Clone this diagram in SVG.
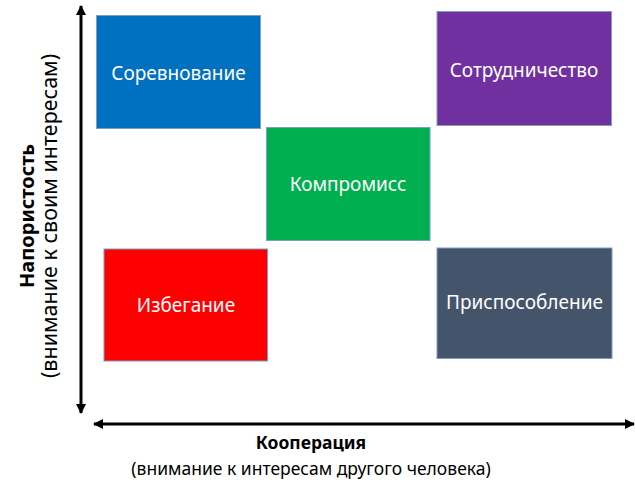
<svg xmlns="http://www.w3.org/2000/svg" width="635" height="485" viewBox="0 0 635 485">
<style>
.box{stroke:#7F9DC6;stroke-width:1}
.lbl{font-family:"Noto Sans","Open Sans",sans-serif;font-size:19px;fill:#ffffff;text-anchor:middle;dominant-baseline:central}
.ax{font-family:"Noto Sans","Open Sans",sans-serif;fill:#000000;text-anchor:middle;dominant-baseline:central}
.b{font-weight:bold}
.arr{stroke:#000;stroke-width:3;fill:none}
</style>
<defs>
<marker id="ah" viewBox="0 0 10 10" refX="9" refY="5" markerWidth="10" markerHeight="10" markerUnits="userSpaceOnUse" orient="auto-start-reverse">
<path d="M0,0 L10,5 L0,10 Z" fill="#000"/>
</marker>
</defs>
<rect width="635" height="485" fill="#fff"/>
<g id="connectors">
<line class="arr" x1="81" y1="6" x2="81" y2="413" marker-start="url(#ah)" marker-end="url(#ah)"/>
<line class="arr" x1="94" y1="424" x2="634" y2="424" marker-start="url(#ah)" marker-end="url(#ah)"/>
</g>
<g id="n-sorevnovanie">
<rect class="box" x="96.5" y="15.5" width="164" height="113" fill="#0070C0"/>
<text class="lbl" x="178.5" y="73">Соревнование</text>
</g>
<g id="n-sotrudnichestvo">
<rect class="box" x="437" y="11.5" width="174.5" height="114" fill="#7030A0"/>
<text class="lbl" x="524" y="70">Сотрудничество</text>
</g>
<g id="n-kompromiss">
<rect class="box" x="266.5" y="127.5" width="163.5" height="113" fill="#00B050"/>
<text class="lbl" x="348" y="184">Компромисс</text>
</g>
<g id="n-izbeganie">
<rect class="box" x="104" y="249" width="163.5" height="112" fill="#FF0000"/>
<text class="lbl" x="186" y="305">Избегание</text>
</g>
<g id="n-prisposoblenie">
<rect class="box" x="437" y="248" width="175" height="110.5" fill="#44546A"/>
<text class="lbl" x="524.5" y="302">Приспособление</text>
</g>
<g id="axis-labels">
<text class="ax b" x="311" y="442" font-size="17.5">Кооперация</text>
<text class="ax" x="311" y="468" font-size="17.5">(внимание к интересам другого человека)</text>
<text class="ax b" transform="translate(26,216) rotate(-90)" font-size="20">Напористость</text>
<text class="ax" transform="translate(48,216) rotate(-90)" font-size="21.5">(внимание к своим интересам)</text>
</g>
</svg>
